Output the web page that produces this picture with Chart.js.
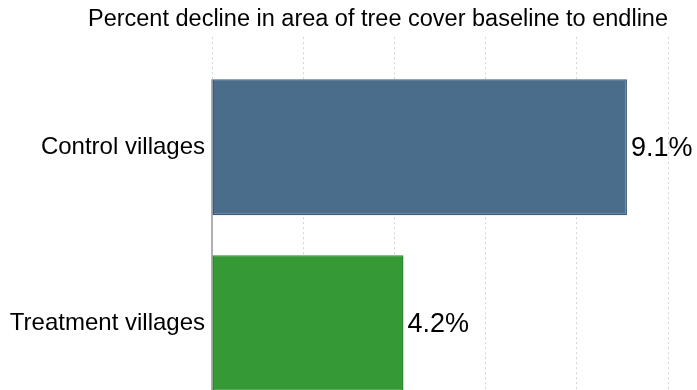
<!DOCTYPE html>
<html>
<head>
<meta charset="utf-8">
<script src="https://cdn.jsdelivr.net/npm/chart.js@4/dist/chart.umd.min.js"></script>
<style>
	html, body { margin: 0; padding: 0; background: #fff; overflow: hidden; }
	#wrap { width: 697px; height: 390px; position: relative; }
</style>
</head>
<body>
<div id="wrap"><canvas id="chart"></canvas></div>
<script>
// data
var categories = ['Control villages', 'Treatment villages'];
var declinePct = [9.1, 4.2];
var barColors = ['#4a6d8c', '#359a35'];
var barBorders = ['#3b5c7c', '#2a8c2a'];
var xTicks = [0, 2, 4, 6, 8, 10];

var FONT = '"Liberation Sans", Arial, sans-serif';

// value labels to the right of each bar
var valueLabels = {
	id: 'valueLabels',
	afterDatasetsDraw: function(chart) {
		var ctx = chart.ctx;
		var meta = chart.getDatasetMeta(0);
		ctx.save();
		ctx.font = '27px ' + FONT;
		ctx.fillStyle = '#000';
		ctx.textAlign = 'left';
		ctx.textBaseline = 'middle';
		meta.data.forEach(function(bar, i) {
			ctx.fillText(declinePct[i].toFixed(1) + '%', bar.x + 4, bar.y + 1);
		});
		ctx.restore();
	}
};

// y axis line, starting at the top of the first bar
var axisLine = {
	id: 'axisLine',
	beforeDatasetsDraw: function(chart) {
		var ctx = chart.ctx;
		var bar = chart.getDatasetMeta(0).data[0];
		var x = chart.scales.x.getPixelForValue(0);
		ctx.save();
		ctx.strokeStyle = '#b0b0b0';
		ctx.lineWidth = 2;
		ctx.beginPath();
		ctx.moveTo(x, bar.y - bar.height / 2);
		ctx.lineTo(x, chart.chartArea.bottom);
		ctx.stroke();
		ctx.restore();
	}
};

new Chart(document.getElementById('chart'), {
	type: 'bar',
	data: {
		datasets: [{
			data: declinePct.map(function(v, i) { return { x: v, y: i + 1 }; }),
			backgroundColor: barColors,
			borderColor: barBorders,
			borderWidth: 1.5,
			borderSkipped: false,
			barPercentage: 0.773,
			categoryPercentage: 1
		}]
	},
	plugins: [axisLine, valueLabels],
	options: {
		indexAxis: 'y',
		responsive: true,
		maintainAspectRatio: false,
		animation: false,
		layout: {
			padding: { left: 0, right: 29, top: 0, bottom: 0 }
		},
		plugins: {
			legend: { display: false },
			tooltip: { enabled: false },
			title: {
				display: true,
				text: 'Percent decline in area of tree cover baseline to endline',
				align: 'end',
				color: '#000',
				font: { family: FONT, size: 23.5, weight: 'normal' },
				padding: { top: 5, bottom: 4 }
			}
		},
		scales: {
			x: {
				type: 'linear',
				min: 0,
				max: 10,
				afterBuildTicks: function(scale) {
					scale.ticks = xTicks.map(function(v) { return { value: v }; });
				},
				ticks: { display: false },
				grid: {
					color: '#d4d4d4',
					lineWidth: 1,
					drawTicks: false
				},
				border: { display: false, dash: [2, 3] }
			},
			y: {
				type: 'linear',
				reverse: true,
				offset: false,
				min: 0.375,
				max: 2.38,
				afterBuildTicks: function(scale) {
					scale.ticks = categories.map(function(c, i) { return { value: i + 1 }; });
				},
				afterFit: function(scale) {
					scale.width = 212;
					scale.paddingTop = 0;
					scale.paddingBottom = 0;
				},
				ticks: {
					color: '#000',
					padding: 7,
					font: { family: FONT, size: 24 },
					callback: function(v) { return categories[v - 1]; }
				},
				grid: { display: false, drawTicks: false },
				border: { display: false }
			}
		}
	}
});
</script>
</body>
</html>
